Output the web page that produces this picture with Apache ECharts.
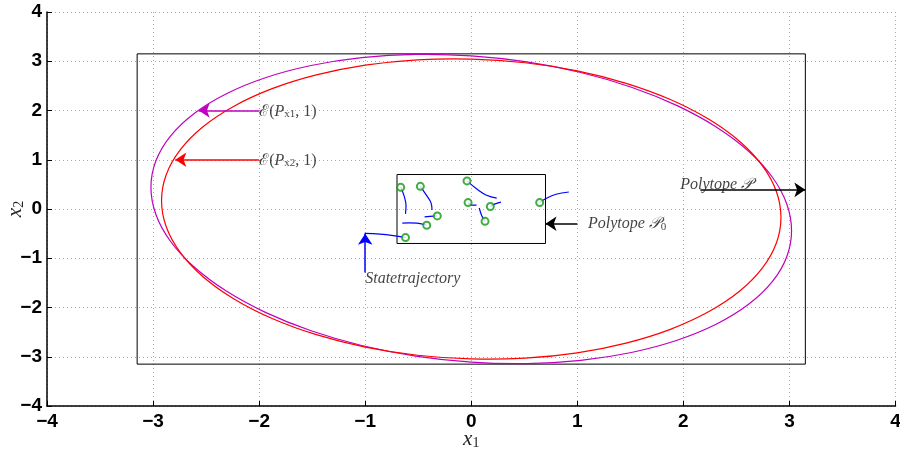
<!DOCTYPE html>
<html>
<head>
<meta charset="utf-8">
<script src="https://cdn.jsdelivr.net/npm/echarts@6/dist/echarts.min.js"></script>
<style>html,body{margin:0;padding:0;background:#fff}#c{width:900px;height:459px}</style>
</head>
<body>
<div id="c"></div>
<script>
// ---- data ----
const polytopeP = [[-3.15,-3.15],[3.15,-3.15],[3.15,3.15],[-3.15,3.15],[-3.15,-3.15]];
const polytopeP0 = [[-0.7,-0.7],[0.7,-0.7],[0.7,0.7],[-0.7,0.7],[-0.7,-0.7]];
const ellipsePx1 = [[3.020,-0.440],[2.974,0.107],[2.838,0.650],[2.615,1.174],[2.313,1.662],[1.941,2.099],[1.510,2.473],[1.033,2.772],[0.524,2.986],[0,3.109],[-0.524,3.138],[-1.033,3.072],[-1.510,2.913],[-1.941,2.665],[-2.313,2.336],[-2.615,1.936],[-2.838,1.476],[-2.974,0.973],[-3.020,0.440],[-2.974,-0.107],[-2.838,-0.650],[-2.615,-1.174],[-2.313,-1.662],[-1.941,-2.099],[-1.510,-2.473],[-1.033,-2.772],[-0.524,-2.986],[0,-3.109],[0.524,-3.138],[1.033,-3.072],[1.510,-2.913],[1.941,-2.665],[2.313,-2.336],[2.615,-1.936],[2.838,-1.476],[2.974,-0.973]];
const ellipsePx2 = [[2.920,-0.171],[2.876,0.361],[2.744,0.880],[2.529,1.375],[2.237,1.826],[1.877,2.223],[1.460,2.552],[0.999,2.804],[0.507,2.969],[0,3.045],[-0.507,3.029],[-0.999,2.920],[-1.460,2.722],[-1.877,2.443],[-2.237,2.088],[-2.529,1.671],[-2.744,1.202],[-2.876,0.697],[-2.920,0.171],[-2.876,-0.361],[-2.744,-0.880],[-2.529,-1.375],[-2.237,-1.826],[-1.877,-2.223],[-1.460,-2.552],[-0.999,-2.804],[-0.507,-2.969],[0,-3.045],[0.507,-3.029],[0.999,-2.920],[1.460,-2.722],[1.877,-2.443],[2.237,-2.088],[2.529,-1.671],[2.744,-1.202],[2.876,-0.697]];
const trajectories = [
  [[-0.665,0.44],[-0.634,0.27],[-0.615,0.07],[-0.62,-0.10]],
  [[-0.48,0.46],[-0.42,0.27],[-0.38,0.13],[-0.37,-0.02]],
  [[-0.04,0.57],[0.05,0.41],[0.145,0.28],[0.24,0.22]],
  [[-0.03,0.13],[0.00,0.08],[0.05,0.08]],
  [[0.18,0.05],[0.22,0.10],[0.28,0.14]],
  [[0.645,0.13],[0.71,0.22],[0.80,0.30],[0.92,0.345]],
  [[-0.32,-0.14],[-0.39,-0.15],[-0.44,-0.16]],
  [[-0.42,-0.33],[-0.51,-0.285],[-0.59,-0.28],[-0.65,-0.285]],
  [[0.13,-0.25],[0.10,-0.14],[0.075,0.02]],
  [[-0.62,-0.58],[-0.735,-0.54],[-0.86,-0.51],[-1.005,-0.495]]
];
const initialStates = [[-0.665,0.44],[-0.48,0.46],[-0.04,0.57],[-0.03,0.13],[0.18,0.05],[0.645,0.13],[-0.32,-0.14],[-0.42,-0.33],[0.13,-0.25],[-0.62,-0.58]];
// arrows: from, to, colour
const arrowFrom = [[-2.0,2.0],[-2.0,1.0],[2.16,0.39],[1.0,-0.3],[-1.0,-1.29]];
const arrowTo   = [[-2.57,2.0],[-2.79,1.0],[3.15,0.39],[0.7,-0.3],[-1.0,-0.5]];
const arrowColors = ['#bf00bf','#ff0000','#000000','#000000','#0000ff'];
// annotation texts
const labelPos = [[-2.0,2.0],[-2.0,1.0],[1.97,0.51],[1.10,-0.29],[-1.0,-1.39]];
const labelText = [
  '{n|ℰ(}{i|P}{s|x1}{n|, 1)}',
  '{n|ℰ(}{i|P}{s|x2}{n|, 1)}',
  '{i|Polytope 𝒫}',
  '{i|Polytope 𝒫}{s|0}',
  '{i|Statetrajectory}'
];

// ---- chart ----
const chart = echarts.init(document.getElementById('c'), null, {renderer:'canvas'});
const serif = '"Liberation Serif","DejaVu Serif",serif';
const richStyles = {
  n:{fontFamily:serif,fontSize:16,color:'#111',verticalAlign:'bottom',lineHeight:18},
  i:{fontFamily:serif,fontStyle:'italic',fontSize:16,color:'#111',verticalAlign:'bottom',lineHeight:18},
  s:{fontFamily:serif,fontSize:11,color:'#111',verticalAlign:'bottom',lineHeight:13}
};
const axisCommon = {
  type:'value', min:-4, max:4, interval:1,
  axisLine:{show:true,onZero:false,lineStyle:{color:'#000',width:1.5}},
  axisTick:{show:true,inside:true,length:5,lineStyle:{color:'#000'}},
  splitLine:{show:true,lineStyle:{color:'#aaa',type:[1,3],width:1}},
  axisLabel:{fontFamily:'"Liberation Sans",Arial,sans-serif',fontWeight:'bold',fontSize:19,color:'#000',
    hideOverlap:false, showMinLabel:true, showMaxLabel:true,
    formatter:v=>String(v).replace('-','\u2212')}
};
const nameRich = {i:{fontFamily:serif,fontStyle:'italic',fontSize:21,color:'#222',verticalAlign:'bottom',lineHeight:22},s:{fontFamily:serif,fontSize:14,color:'#222',verticalAlign:'bottom',lineHeight:16}};

// closed Catmull-Rom curve through the given (data) points, mapped by the axes
function ellipseSeries(pts, color){
  return {type:'custom',coordinateSystem:'cartesian2d',z:3,data:pts,
    renderItem:function(params, api){
      if (params.dataIndex !== 0) return null;
      const p = pts.map(q=>api.coord(q));
      const n = p.length;
      let d = 'M' + p[0][0] + ' ' + p[0][1];
      for (let i=0;i<n;i++){
        const p0=p[(i-1+n)%n], p1=p[i], p2=p[(i+1)%n], p3=p[(i+2)%n];
        const c1x=p1[0]+(p2[0]-p0[0])/6, c1y=p1[1]+(p2[1]-p0[1])/6;
        const c2x=p2[0]-(p3[0]-p1[0])/6, c2y=p2[1]-(p3[1]-p1[1])/6;
        d += ' C'+c1x+' '+c1y+' '+c2x+' '+c2y+' '+p2[0]+' '+p2[1];
      }
      d += ' Z';
      return {type:'path',shape:{pathData:d,layout:'center'},
        style:{fill:null,stroke:color,lineWidth:1.2}};
    }};
}

const series = [];
series.push({type:'line',data:polytopeP,symbol:'none',lineStyle:{color:'#000',width:1},z:2});
series.push({type:'line',data:polytopeP0,symbol:'none',lineStyle:{color:'#000',width:1},z:2});
series.push(ellipseSeries(ellipsePx1,'#bf00bf'));
series.push(ellipseSeries(ellipsePx2,'#ff0000'));
trajectories.forEach(t=>series.push({type:'line',data:t,symbol:'none',smooth:0.4,lineStyle:{color:'#0000ff',width:1.2},z:4}));
series.push({type:'scatter',data:initialStates,symbol:'emptyCircle',symbolSize:7,itemStyle:{color:'#119911',borderColor:'#119911',borderWidth:1.2},z:5});
arrowFrom.forEach((f,k)=>{
  series.push({type:'lines',coordinateSystem:'cartesian2d',z:6,
    lineStyle:{color:arrowColors[k],width:1.5,opacity:1},
    symbol:['none','arrow'],symbolSize:11,
    data:[{coords:[f,arrowTo[k]]}]});
});
series.push({type:'scatter',symbolSize:0,z:7,
  data:labelPos.map((p,k)=>({value:p,label:{formatter:labelText[k]}})),
  label:{show:true,position:'right',distance:0,rich:richStyles}});

chart.setOption({
  animation:false,
  grid:{left:47,right:4.5,top:12,bottom:53,outerBoundsMode:'none',containLabel:false},
  xAxis:Object.assign({},axisCommon,{
    name:'{i|x}{s|1}',nameLocation:'middle',nameGap:22,nameMoveOverlap:false,
    nameTextStyle:{rich:nameRich},
    axisLabel:Object.assign({},axisCommon.axisLabel,{margin:6})
  }),
  yAxis:Object.assign({},axisCommon,{
    name:'{i|x}{s|2}',nameLocation:'middle',nameGap:21,nameRotate:90,nameMoveOverlap:false,
    nameTextStyle:{rich:nameRich},
    axisLabel:Object.assign({},axisCommon.axisLabel,{margin:5})
  }),
  series:series
});
</script>
</body>
</html>
